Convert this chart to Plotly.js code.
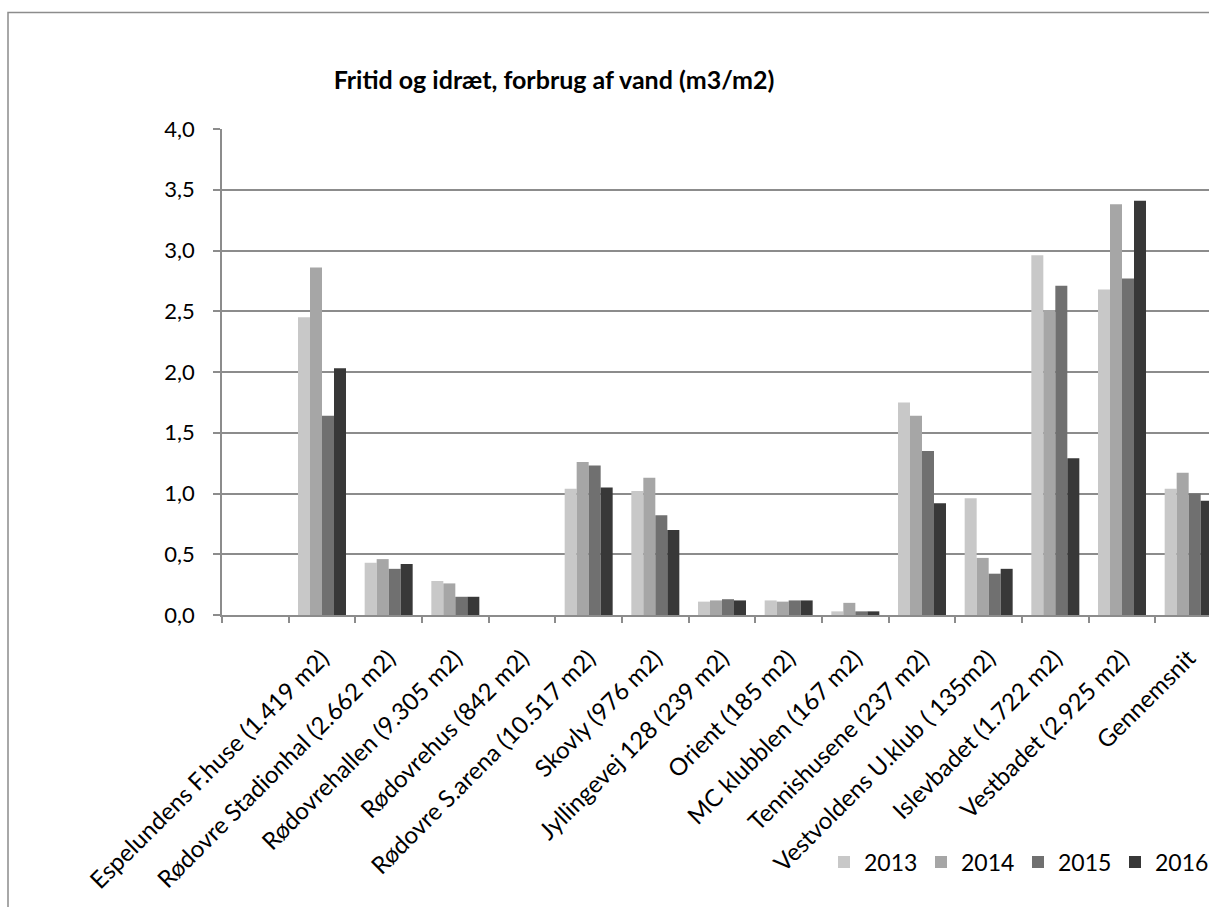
<!DOCTYPE html>
<html>
<head>
<meta charset="utf-8">
<script src="https://cdn.plot.ly/plotly-3.0.1.min.js"></script>
<style>
html,body{margin:0;padding:0;overflow:hidden;background:#fff;}
#chart{width:1240px;height:907px;}
</style>
</head>
<body>
<div id="chart"></div>
<script>
const categories = [
  " ",
  "Espelundens F.huse (1.419 m2)",
  "Rødovre Stadionhal (2.662 m2)",
  "Rødovrehallen (9.305 m2)",
  "Rødovrehus (842 m2)",
  "Rødovre S.arena (10.517 m2)",
  "Skovly (976 m2)",
  "Jyllingevej 128 (239 m2)",
  "Orient (185 m2)",
  "MC klubblen (167 m2)",
  "Tennishusene (237 m2)",
  "Vestvoldens U.klub ( 135m2)",
  "Islevbadet (1.722 m2)",
  "Vestbadet (2.925 m2)",
  "Gennemsnit"
];
const seriesNames = ["2013", "2014", "2015", "2016"];
const values2013 = [null, 2.45, 0.43, 0.28, 0, 1.04, 1.02, 0.11, 0.12, 0.03, 1.75, 0.96, 2.96, 2.68, 1.04];
const values2014 = [null, 2.86, 0.46, 0.26, 0, 1.26, 1.13, 0.12, 0.11, 0.10, 1.64, 0.47, 2.51, 3.38, 1.17];
const values2015 = [null, 1.64, 0.38, 0.15, 0, 1.23, 0.82, 0.13, 0.12, 0.03, 1.35, 0.34, 2.71, 2.77, 1.00];
const values2016 = [null, 2.03, 0.42, 0.15, 0, 1.05, 0.70, 0.12, 0.12, 0.03, 0.92, 0.38, 1.29, 3.41, 0.94];
const seriesColors = ["#c8c8c8", "#a6a6a6", "#707070", "#383838"];
const yTickValues = [0, 0.5, 1, 1.5, 2, 2.5, 3, 3.5, 4];

const allValues = [values2013, values2014, values2015, values2016];
const FONT = "Lato, 'Open Sans', sans-serif";
const GRID = "#8c8c8c";

const traces = allValues.map((vals, i) => ({
  type: "bar",
  name: seriesNames[i],
  x: categories,
  y: vals,
  marker: {color: seriesColors[i], line: {width: 0}},
  hoverinfo: "x+y+name"
}));

const layout = {
  width: 1240,
  height: 907,
  margin: {l: 222, r: 18, t: 129, b: 292, pad: 0},
  paper_bgcolor: "#ffffff",
  plot_bgcolor: "#ffffff",
  separators: ",.",
  barmode: "group",
  bargap: 0.28,
  bargroupgap: 0,
  font: {family: FONT, size: 22, color: "#000000"},
  title: {
    text: "<b>Fritid og idræt, forbrug af vand (m3/m2)</b>",
    font: {family: FONT, size: 25, color: "#000000"},
    xref: "container", yref: "container",
    x: 554 / 1240, xanchor: "center",
    y: 1 - 80 / 907, yanchor: "middle"
  },
  xaxis: {
    type: "category",
    tickson: "boundaries",
    ticks: "outside",
    ticklen: 6,
    tickwidth: 1.5,
    tickcolor: GRID,
    showline: true,
    linecolor: GRID,
    linewidth: 1.5,
    showgrid: false,
    tickangle: -45,
    tickfont: {family: FONT, size: 24, color: "#000000"},
    ticklabelstandoff: 18,
    automargin: false,
    fixedrange: true
  },
  yaxis: {
    range: [0, 4],
    tickvals: yTickValues,
    tickformat: ".1f",
    ticks: "outside",
    ticklen: 7,
    tickwidth: 1.5,
    tickcolor: GRID,
    showline: true,
    linecolor: GRID,
    linewidth: 1.5,
    showgrid: true,
    gridcolor: GRID,
    gridwidth: 1.5,
    zeroline: false,
    tickfont: {family: FONT, size: 22, color: "#000000"},
    ticklabelstandoff: 14,
    automargin: false,
    fixedrange: true
  },
  legend: {
    orientation: "h",
    xref: "container", yref: "container",
    x: 1212 / 1240, xanchor: "right",
    y: 1 - 862 / 907, yanchor: "middle",
    font: {family: FONT, size: 23, color: "#000000"},
    itemwidth: 30,
    entrywidth: 52,
    entrywidthmode: "pixels",
    bgcolor: "rgba(0,0,0,0)",
    traceorder: "normal"
  },
  shapes: [{
    type: "rect",
    xref: "paper", yref: "paper",
    x0: (8 - 222) / 1000, x1: 1.2,
    y0: -0.8, y1: (615 - 12.5) / 486,
    line: {color: GRID, width: 1.5},
    fillcolor: "rgba(0,0,0,0)",
    layer: "below"
  }],
  showlegend: true
};

Plotly.newPlot("chart", traces, layout, {displayModeBar: false, staticPlot: false});
</script>
</body>
</html>
